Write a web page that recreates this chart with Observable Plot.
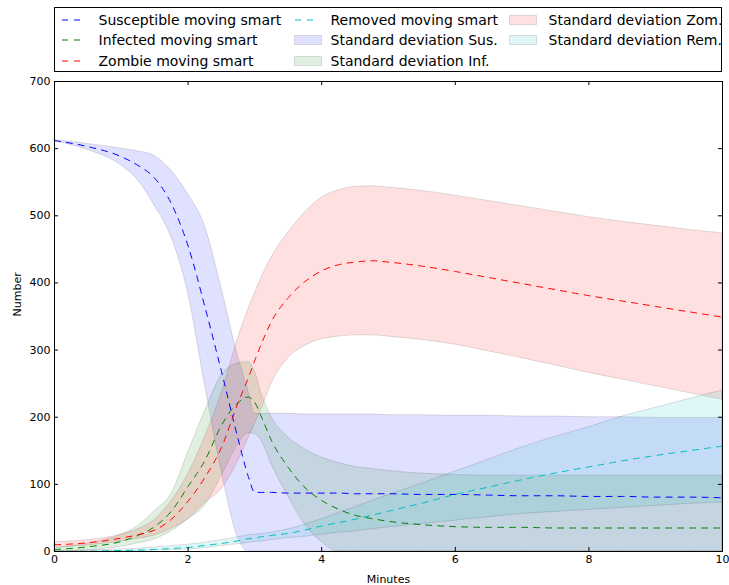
<!DOCTYPE html>
<html>
<head>
<meta charset="utf-8">
<script src="https://cdn.jsdelivr.net/npm/d3@7"></script>
<script src="https://cdn.jsdelivr.net/npm/@observablehq/plot@0.6"></script>
<style>
  html, body { margin: 0; padding: 0; background: white; overflow: hidden; }
  body { width: 729px; height: 585px; position: relative; font-family: "DejaVu Sans", sans-serif; }
  #legend { position: absolute; left: 54px; top: 7px; width: 668px; height: 65px; box-sizing: border-box; border: 1px solid #000; background: white; z-index: 2; }
  .item { position: absolute; font-size: 14px; line-height: 16px; color: #000; white-space: nowrap; }
  .sw { position: absolute; }
  #chart { position: absolute; left: 0; top: 0; }
</style>
</head>
<body>
<div id="legend"></div>
<div id="chart"></div>
<script>
// ---- data ----
const minutes = [0, 0.5, 1, 1.25, 1.5, 1.75, 2, 2.25, 2.5, 2.75, 2.9, 3, 3.1, 3.25, 3.5, 3.75, 4, 4.25, 4.5, 4.75, 5, 5.5, 6, 6.5, 7, 7.5, 8, 8.5, 9, 9.5, 10];

const susMean  = [612, 603, 588, 575, 556, 518, 455, 365, 268, 167, 112, 88, 88, 88, 87, 87, 87, 87, 86, 86, 86, 85, 85, 84, 83, 83, 82, 82, 81, 81, 80];
const susUpper = [613, 607, 600, 596, 589, 567, 532, 485, 392, 290, 240, 205, 205, 205, 205, 204, 204, 204, 204, 204, 203, 203, 202, 202, 201, 201, 200, 200, 199, 199, 199];
const susLower = [611, 598, 575, 553, 515, 468, 385, 250, 120, 20, 0, 0, 0, 0, 0, 0, 0, 0, 0, 0, 0, 0, 0, 0, 0, 0, 0, 0, 0, 0, 0];

const infMean  = [3, 7, 15, 24, 37, 60, 97, 135, 188, 222, 230, 222, 200, 165, 125, 95, 76, 63, 54, 49, 45, 40, 37, 36, 36, 35, 35, 35, 35, 35, 35];
const infUpper = [5, 12, 25, 38, 60, 86, 147, 208, 262, 280, 282, 268, 235, 200, 170, 152, 140, 132, 126, 123, 120, 116, 114, 113, 113, 113, 113, 113, 113, 113, 113];
const infLower = [0, 2, 7, 12, 18, 30, 48, 68, 112, 160, 176, 175, 165, 130, 82, 40, 14, 0, 0, 0, 0, 0, 0, 0, 0, 0, 0, 0, 0, 0, 0];

const zomMean  = [10, 13, 20, 25, 32, 48, 75, 110, 155, 222, 258, 285, 310, 343, 378, 402, 418, 427, 431, 433, 431, 425, 417, 408, 399, 390, 381, 373, 365, 357, 349];
const zomUpper = [14, 17, 25, 33, 47, 75, 115, 170, 235, 318, 360, 385, 408, 438, 475, 505, 527, 538, 543, 544, 542, 537, 530, 522, 514, 506, 498, 491, 485, 479, 474];
const zomLower = [6, 9, 15, 19, 24, 34, 48, 72, 93, 135, 168, 190, 212, 250, 288, 306, 316, 320, 322, 322, 320, 315, 308, 298, 288, 277, 266, 256, 246, 236, 226];

const remMean  = [0, 0.5, 1.5, 2, 3, 4.5, 6, 9, 12, 16, 19, 20, 22, 24, 27, 32, 38, 43, 48, 54, 60, 72, 85, 96, 107, 117, 126, 135, 143, 150, 157];
const remUpper = [1, 1.5, 3, 4, 6, 8, 10, 13, 17, 21, 24, 25, 26, 28, 33, 40, 48, 57, 66, 75, 84, 101, 119, 137, 155, 171, 185, 201, 214, 227, 240];
const remLower = [0, 0, 0.5, 1, 1.5, 2, 3, 5, 8, 11, 13, 14, 15, 17, 20, 22, 25, 28, 30, 33, 36, 41, 46, 51, 56, 59, 62, 65, 68, 71, 73];

const xTicks = [0, 2, 4, 6, 8, 10];
const yTicks = [0, 100, 200, 300, 400, 500, 600, 700];

const lineNames = ["Susceptible moving smart", "Infected moving smart", "Zombie moving smart", "Removed moving smart"];
const bandNames = ["Standard deviation Sus.", "Standard deviation Inf.", "Standard deviation Zom.", "Standard deviation Rem."];
const colors = ["#0000ff", "#008000", "#ff0000", "#00bfbf"];

// ---- chart ----
const bands = [[susLower, susUpper], [infLower, infUpper], [zomLower, zomUpper], [remLower, remUpper]];
const means = [susMean, infMean, zomMean, remMean];
const dash = "6,6";
const curve = "monotone-x";

const marks = [];
bands.forEach(([lo, hi], i) => {
  marks.push(Plot.areaY(minutes, {x: minutes, y1: lo, y2: hi, fill: colors[i], fillOpacity: 0.12, stroke: "black", strokeOpacity: 0.12, strokeWidth: 1, curve}));
});
means.forEach((m, i) => {
  marks.push(Plot.line(minutes, {x: minutes, y: m, stroke: colors[i], strokeWidth: 1, strokeDasharray: dash, curve}));
});
// inward ticks on all four sides
marks.push(Plot.ruleX(xTicks, {x: d => d, y1: 0, y2: 6, stroke: "black", strokeWidth: 1}));
marks.push(Plot.ruleX(xTicks, {x: d => d, y1: 694, y2: 700, stroke: "black", strokeWidth: 1}));
marks.push(Plot.ruleY(yTicks, {y: d => d, x1: 0, x2: 0.06, stroke: "black", strokeWidth: 1}));
marks.push(Plot.ruleY(yTicks, {y: d => d, x1: 9.94, x2: 10, stroke: "black", strokeWidth: 1}));
marks.push(Plot.frame({stroke: "black", strokeWidth: 1}));
marks.push(Plot.axisX({ticks: xTicks, tickSize: 0, tickPadding: 4, tickFormat: d => String(d), label: null, fontSize: 11}));
marks.push(Plot.axisY({ticks: yTicks, tickSize: 0, tickPadding: 4, tickFormat: d => String(d), label: null, fontSize: 11}));
marks.push(Plot.text(["Number"], {frameAnchor: "left", dx: -37, rotate: -90, text: d => d, fontSize: 11, fill: "black"}));
marks.push(Plot.text(["Minutes"], {frameAnchor: "bottom", dy: 31, text: d => d, fontSize: 11, fill: "black"}));

const chart = Plot.plot({
  width: 729,
  height: 585,
  marginLeft: 54,
  marginRight: 7,
  marginTop: 81,
  marginBottom: 34,
  x: {domain: [0, 10]},
  y: {domain: [0, 700]},
  style: {fontFamily: "DejaVu Sans, sans-serif", fontSize: "11px", color: "black", background: "white", overflow: "visible"},
  marks
});
document.getElementById("chart").appendChild(chart);

// ---- legend ----
const legend = document.getElementById("legend");
const L0 = 54, T0 = 7; // legend box origin in page coords
const rowsY = [19.5, 40, 60.5];
const cols = [{h: 61, t: 98.5}, {h: 294, t: 330.5}, {h: 509, t: 548.5}];
const entries = [];
lineNames.forEach((n, i) => entries.push({name: n, type: "line", color: colors[i]}));
bandNames.forEach((n, i) => entries.push({name: n, type: "band", color: colors[i]}));
entries.forEach((e, k) => {
  const col = cols[Math.floor(k / 3)];
  const cy = rowsY[k % 3];
  const sw = document.createElementNS("http://www.w3.org/2000/svg", "svg");
  sw.setAttribute("class", "sw");
  sw.setAttribute("width", 28);
  sw.setAttribute("height", 12);
  sw.style.left = (col.h - L0 - 1) + "px";
  sw.style.top = (cy - 6 - T0 - 1) + "px";
  if (e.type === "line") {
    const ln = document.createElementNS("http://www.w3.org/2000/svg", "line");
    ln.setAttribute("x1", 1); ln.setAttribute("x2", 20);
    ln.setAttribute("y1", 6); ln.setAttribute("y2", 6);
    ln.setAttribute("stroke", e.color);
    ln.setAttribute("stroke-dasharray", dash);
    sw.appendChild(ln);
  } else {
    const r = document.createElementNS("http://www.w3.org/2000/svg", "rect");
    r.setAttribute("x", 0.5); r.setAttribute("y", 1.5);
    r.setAttribute("width", 27); r.setAttribute("height", 9);
    r.setAttribute("fill", e.color); r.setAttribute("fill-opacity", 0.12);
    r.setAttribute("stroke", "black"); r.setAttribute("stroke-opacity", 0.12);
    sw.appendChild(r);
  }
  legend.appendChild(sw);
  const t = document.createElement("div");
  t.className = "item";
  t.textContent = e.name;
  t.style.left = (col.t - L0 - 1) + "px";
  t.style.top = (cy - 8 - T0 - 1) + "px";
  legend.appendChild(t);
});
</script>
</body>
</html>
